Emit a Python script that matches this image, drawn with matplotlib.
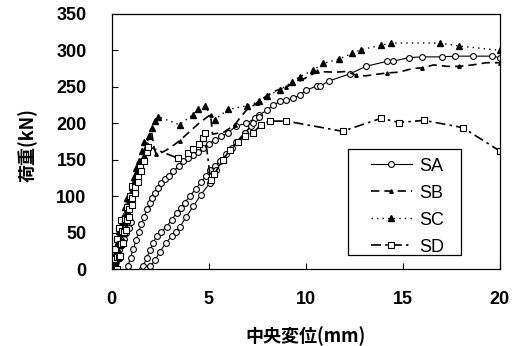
import numpy as np
import matplotlib
matplotlib.use("Agg")
import matplotlib.pyplot as plt
from matplotlib.patches import Rectangle

nan = np.nan

# SA: circles, solid line (segments split by nan)
sa_x = [0, 0.12, 0.25, 0.38, 0.5, 0.62, 0.75, 0.88, 1.0, nan,
        0.84, 0.98, 1.12, 1.26, 1.40, 1.54, 1.68, 1.82, 1.96, 2.1, 2.25, 2.4, 2.55, 2.75,
        2.95, 3.17, 3.45, 3.69, 3.95, 4.2, 4.45, 4.7, 5.0, 5.32, 5.65, 6.0, 6.4, 6.95,
        7.4, 7.6, 8.0, 8.3, 8.7, 9.0, 9.35, 9.7, 10.0, 10.56, 10.75, 11.2, 12.3, 13.1,
        14.2, 14.5, 15.3, 16.0, 17.0, 17.7, 18.6, 19.6, 20.0, nan,
        1.55, 1.63, 1.8, 1.97, 2.14, 2.32, 2.55, 2.83, 3.1, 3.35, 3.56, 3.77, 4.03, 4.33,
        4.63, 4.85, 5.06, 5.32, 5.58, 5.9, 6.2, 6.5, 6.85, 7.2, nan,
        1.8, 2.0, 2.23, 2.49, 2.8, 3.09, 3.3, 3.52, 3.85, 4.2, 4.6, 5.06, 5.4, 5.75, 6.1,
        6.43, 6.86, 7.3, 7.6]
sa_y = [0, 8, 17, 26, 34, 42, 50, 57, 64, nan,
        4, 16, 28, 40, 51, 62, 72, 82, 91, 98, 105, 111, 118, 123,
        128, 134, 141, 148, 152, 156, 161, 166, 172, 177, 182, 187, 196, 200,
        207, 211, 218, 225, 230, 232, 234, 239, 245, 251, 251, 258, 268, 278,
        285, 285, 290, 291, 291, 292, 292, 292, 290, nan,
        0, 4, 15, 26, 36, 45, 51, 58, 68, 77, 84, 91, 100, 110,
        120, 128, 136, 142, 148, 158, 166, 175, 186, 196, nan,
        0, 4, 12, 24, 36, 45, 51, 58, 72, 86, 102, 118, 136, 150, 163,
        175, 187, 200, 208]

# SB: dashed, small filled marker
sb_x = [0, 0.3, 0.6, 0.9, 1.2, 1.5, 1.8, 2.05, 2.2, 2.3, 2.6, 3.0, 3.5, 4.0, 4.5,
        5.1, 5.2, 5.8, 6.35, 6.6, 6.95, 7.5, 8.0, 8.5, 9.0, 9.7, 10.2, 10.6, 11.5,
        12.1, 12.6, 13.1, 13.6, 14.2, 14.8, 15.5, 16.0, 16.6, 17.3, 17.9, 18.6,
        19.3, 20.0]
sb_y = [0, 32, 64, 94, 122, 148, 172, 190, 165, 158, 160, 166, 176, 188, 200,
        212, 185, 188, 198, 207, 218, 228, 238, 245, 250, 258, 265, 271, 270,
        271, 266, 265, 267, 269, 270, 275, 276, 280, 278, 278, 280,
        283, 283]

# SC: filled triangles, dotted line
sc_x = [0.00, 0.08, 0.16, 0.24, 0.32, 0.40, nan,
        0.10, 0.20, 0.30, 0.40, 0.50, 0.60, 0.70, 0.80, nan,
        0.20, 0.32, 0.44, 0.56, 0.68, 0.80, 0.92, 1.04, 1.16, 1.28, nan,
        0.25, 0.38, 0.51, 0.64, 0.77, 0.90, 1.03, 1.16, 1.29, 1.42, 1.55, 1.68, nan,
        0.30, 0.45, 0.60, 0.75, 0.90, 1.05, 1.20, 1.35, 1.50, 1.65, 1.80, 1.95, 2.10,
        2.25, 2.40, 3.5, 4.2, 4.46, 4.8, 5.32, 6.0, 7.0, 7.6, 8.0, 8.67, 9.27, 9.7,
        10.4, 10.9, 11.7, 12.4, 12.87, 13.9, 14.4, 16.9, 17.9, 20.0]
sc_y = [0, 10, 21, 32, 43, 52, nan,
        0, 14, 29, 44, 58, 72, 85, 97, nan,
        0, 16, 33, 50, 67, 83, 98, 112, 126, 139, nan,
        0, 18, 36, 54, 71, 88, 104, 119, 134, 148, 162, 175, nan,
        0, 19, 38, 56, 74, 92, 109, 125, 140, 155, 169, 182, 194,
        203, 209, 198, 212, 219, 223, 205, 219, 224, 230, 237, 246, 256, 264,
        273, 282, 288, 296, 301, 307, 310, 310, 306, 300]

# SD: open squares, dash-dot line
sd_x = [0.00, 0.10, 0.20, 0.30, 0.40, 0.50, nan,
        0.15, 0.28, 0.41, 0.54, 0.67, 0.80, 0.93, 1.06, nan,
        0.22, 0.36, 0.50, 0.64, 0.78, 0.92, 1.06, 1.20, 1.34, 1.48, nan,
        0.30, 0.45, 0.60, 0.75, 0.90, 1.05, 1.20, 1.35, 1.50, 1.65, 1.80, 1.90,
        3.43, 3.95, 4.2, 4.5, 4.7, 4.8, 5.1, 5.3, 5.75, 6.1, 6.5, 6.86, 7.3, 7.7,
        8.15, 9.0, 11.9, 13.9, 14.8, 16.1, 18.1, 20.0]
sd_y = [0, 14, 28, 42, 56, 68, nan,
        0, 17, 35, 52, 69, 85, 100, 114, nan,
        0, 17, 34, 51, 67, 83, 98, 113, 127, 140, nan,
        0, 18, 36, 54, 71, 88, 104, 119, 134, 148, 161, 168,
        152, 159, 165, 172, 180, 187, 122, 131, 150, 164, 175, 182, 187, 198,
        203, 203, 189, 207, 201, 204, 194, 162]

x_ticks = [0, 5, 10, 15, 20]
y_ticks = [0, 50, 100, 150, 200, 250, 300, 350]

plt.rcParams["font.family"] = ["Liberation Sans", "DejaVu Sans"]

fig = plt.figure(figsize=(5.19, 3.46), dpi=100)
ax = fig.add_axes([0.215, 0.222, 0.748, 0.738])

ax.plot(sa_x, sa_y, color="black", lw=0.8, marker="o", ms=4.2,
        mfc="white", mec="black", mew=0.8, label="SA")
ax.plot(sb_x, sb_y, color="black", lw=1.2, ls=(0, (5, 3)), marker="^", ms=2.5,
        mfc="black", mec="black", markevery=3, label="SB")
ax.plot(sc_x, sc_y, color="black", lw=1.0, ls=(0, (1, 3)), marker="^", ms=5,
        mfc="black", mec="black", label="SC")
ax.plot(sd_x, sd_y, color="black", lw=1.2, ls=(0, (6, 2.5, 1.5, 2.5)), marker="s",
        ms=4.5, mfc="white", mec="black", mew=0.8, label="SD")

ax.set_xlim(0, 20)
ax.set_ylim(0, 350)
ax.set_xticks(x_ticks)
ax.set_yticks(y_ticks)
ax.tick_params(direction="in", length=4, width=0.8, labelsize=13)
ax.tick_params(axis="x", pad=16)
ax.tick_params(axis="y", pad=18)
for lab in ax.get_xticklabels() + ax.get_yticklabels():
    lab.set_fontweight("bold")
for sp in ax.spines.values():
    sp.set_linewidth(0.9)

cjk = ["Noto Sans CJK JP", "DejaVu Sans"]
ax.set_xlabel("中央変位(mm)", family=cjk, fontweight="bold", fontsize=13)
ax.set_ylabel("荷重(kN)", family=cjk, fontweight="bold", fontsize=13)
ax.xaxis.set_label_coords(0.5, -0.225)
ax.yaxis.set_label_coords(-0.19, 0.486)

# legend box drawn separately so its size matches the reference
ax.add_patch(Rectangle((0.609, 0.056), 0.292, 0.414, transform=ax.transAxes,
                       facecolor="white", edgecolor="black", lw=0.9, zorder=4))
leg = ax.legend(loc="center", bbox_to_anchor=(0.762, 0.245), borderaxespad=0,
                fontsize=13, frameon=False, borderpad=0, handlelength=2.3,
                handletextpad=0.4, labelspacing=0.55)
leg.set_zorder(5)

fig.savefig("out.png", dpi=100)
